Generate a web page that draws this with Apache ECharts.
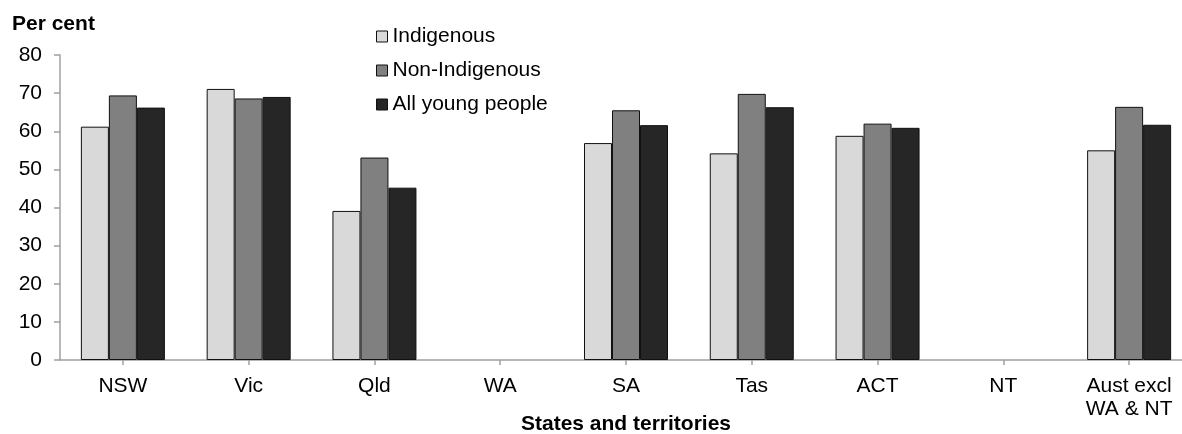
<!DOCTYPE html>
<html>
<head>
<meta charset="utf-8">
<script src="https://cdn.jsdelivr.net/npm/echarts@6/dist/echarts.min.js"></script>
<style>
html,body{margin:0;padding:0;background:#fff;}
#chart{width:1182px;height:434px;}
</style>
</head>
<body>
<div id="chart"></div>
<script>
const categories = ['NSW', 'Vic', 'Qld', 'WA', 'SA', 'Tas', 'ACT', 'NT', 'Aust excl\nWA & NT'];
const indigenous = [61.2, 71.1, 39.1, null, 56.9, 54.2, 58.8, null, 55.0];
const nonIndigenous = [69.4, 68.6, 53.1, null, 65.5, 69.8, 62.0, null, 66.4];
const allYoungPeople = [66.2, 69.0, 45.2, null, 61.6, 66.3, 60.9, null, 61.7];
const yTicks = { min: 0, max: 80, interval: 10 };

const FONT = '"Liberation Sans", Arial, sans-serif';
const chart = echarts.init(document.getElementById('chart'), null, { renderer: 'canvas' });

function barSeries(name, data, color) {
  return {
    name: name,
    type: 'bar',
    data: data,
    barWidth: 28,
    barGap: '0%',
    itemStyle: { color: color, borderColor: '#111', borderWidth: 1 },
    emphasis: { disabled: true }
  };
}

chart.setOption({
  animation: false,
  textStyle: { fontFamily: FONT },
  title: {
    text: 'Per cent',
    left: 12,
    top: 14,
    padding: 0,
    textStyle: { fontFamily: FONT, fontSize: 21, fontWeight: 'bold', color: '#000' }
  },
  legend: {
    orient: 'vertical',
    left: 376,
    top: 26,
    padding: 0,
    itemWidth: 11,
    itemHeight: 11,
    itemGap: 13,
    icon: 'rect',
    itemStyle: { borderColor: '#111', borderWidth: 1 },
    textStyle: { fontFamily: FONT, fontSize: 21, color: '#000', lineHeight: 21 },
    data: ['Indigenous', 'Non-Indigenous', 'All young people']
  },
  grid: { left: 60, right: -10, top: 55, bottom: 74, containLabel: false, outerBoundsMode: 'none' },
  xAxis: {
    type: 'category',
    data: categories,
    boundaryGap: true,
    name: 'States and territories',
    nameLocation: 'middle',
    nameGap: 54,
    nameMoveOverlap: false,
    nameTextStyle: { fontFamily: FONT, fontSize: 21, fontWeight: 'bold', color: '#000' },
    axisLine: { show: true, lineStyle: { color: '#a0a0a0', width: 1.5 } },
    axisTick: { show: true, alignWithLabel: true, length: 5, lineStyle: { color: '#a0a0a0', width: 1.5 } },
    axisLabel: { interval: 0, margin: 15, fontFamily: FONT, fontSize: 21, color: '#000', lineHeight: 23 },
    splitLine: { show: false }
  },
  yAxis: {
    type: 'value',
    min: yTicks.min,
    max: yTicks.max,
    interval: yTicks.interval,
    axisLine: { show: true, lineStyle: { color: '#a0a0a0', width: 1.5 } },
    axisTick: { show: true, length: 6, lineStyle: { color: '#a0a0a0', width: 1.5 } },
    axisLabel: { margin: 18, fontFamily: FONT, fontSize: 21, color: '#000' },
    splitLine: { show: false }
  },
  series: [
    barSeries('Indigenous', indigenous, '#d9d9d9'),
    barSeries('Non-Indigenous', nonIndigenous, '#808080'),
    barSeries('All young people', allYoungPeople, '#262626')
  ]
});
</script>
</body>
</html>
